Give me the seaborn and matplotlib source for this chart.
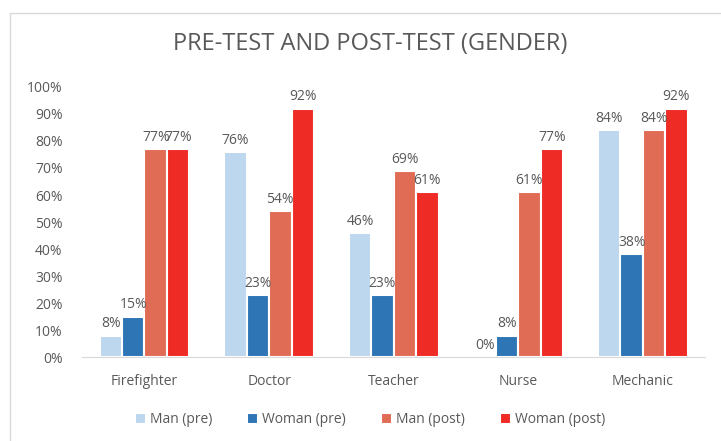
import pandas as pd
import matplotlib.pyplot as plt
import seaborn as sns
from matplotlib.patches import Rectangle

# Chart data
jobs = ['Firefighter', 'Doctor', 'Teacher', 'Nurse', 'Mechanic']
series = ['Man (pre)', 'Woman (pre)', 'Man (post)', 'Woman (post)']
man_pre = [0.08, 0.76, 0.46, 0.00, 0.84]
woman_pre = [0.15, 0.23, 0.23, 0.08, 0.38]
man_post = [0.77, 0.54, 0.69, 0.61, 0.84]
woman_post = [0.77, 0.92, 0.61, 0.77, 0.92]
colors = ['#BDD7EE', '#2E75B6', '#E06C55', '#EE2B24']

# Long-form table for seaborn
rows = []
for name, vals in zip(series, [man_pre, woman_pre, man_post, woman_post]):
    for job, v in zip(jobs, vals):
        rows.append({'Job': job, 'Series': name, 'Value': v})
df = pd.DataFrame(rows)

sns.set_style("white")
plt.rcParams['font.family'] = ['Open Sans', 'DejaVu Sans']
grey = '#595959'

fig = plt.figure(figsize=(7.21, 4.41), dpi=100)
ax = fig.add_axes([0.114, 0.19, 0.864, 0.613])

sns.barplot(data=df, x='Job', y='Value', hue='Series', order=jobs,
            hue_order=series, palette=colors, width=0.72, saturation=1,
            edgecolor='white', linewidth=1.5, ax=ax)

for cont in ax.containers:
    ax.bar_label(cont, labels=[f"{v*100:.0f}%" for v in cont.datavalues],
                 fontsize=10, color=grey, padding=3)

ax.set_ylim(0, 1.0)
ax.set_yticks([i / 10 for i in range(11)])
ax.set_yticklabels([f"{i*10}%" for i in range(11)])
ax.set_xlabel('')
ax.set_ylabel('')
ax.tick_params(axis='both', labelsize=10, labelcolor=grey, length=0)
ax.tick_params(axis='x', pad=12)
ax.tick_params(axis='y', pad=14)
for s in ['top', 'right', 'left']:
    ax.spines[s].set_visible(False)
ax.spines['bottom'].set_color('#D9D9D9')

fig.suptitle('PRE-TEST AND POST-TEST (GENDER)', fontsize=17, color=grey,
             x=0.513, y=0.901, va='center')

ax.legend(loc='center', bbox_to_anchor=(0.513, 0.048), bbox_transform=fig.transFigure,
          ncol=4, frameon=False, fontsize=10, labelcolor=grey, handlelength=0.8,
          handleheight=0.8, handletextpad=0.3, columnspacing=2.5)

# Chart border
fig.patches.append(Rectangle((0.014, -0.1), 1.1, 1.07, transform=fig.transFigure,
                             fill=False, edgecolor='#D9D9D9', linewidth=1))

fig.savefig('out.png', dpi=100)
